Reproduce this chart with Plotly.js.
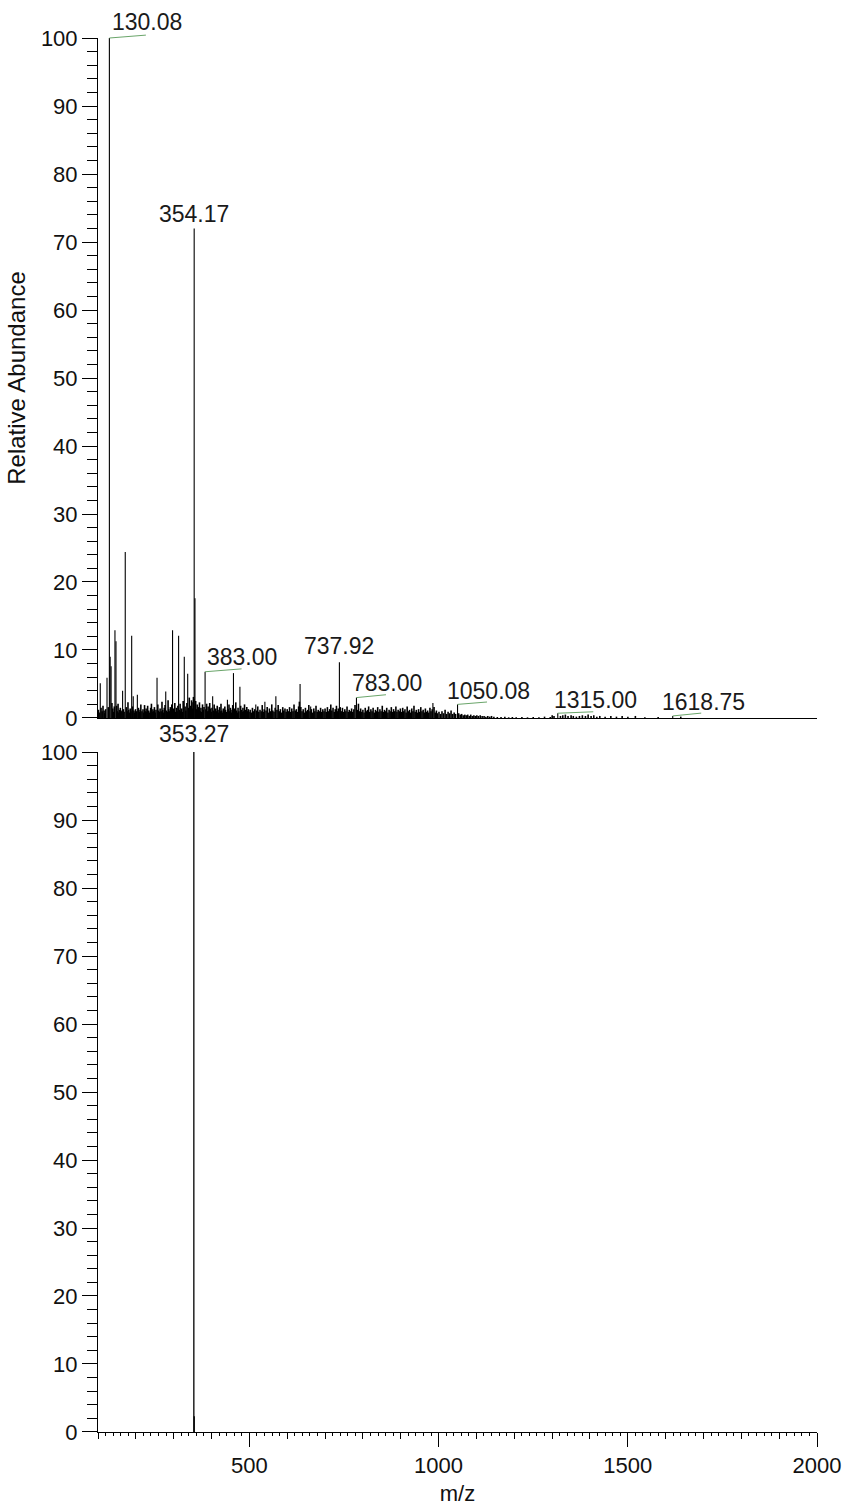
<!DOCTYPE html>
<html>
<head>
<meta charset="utf-8">
<script src="https://cdn.plot.ly/plotly-3.0.1.min.js"></script>
<style>html,body{margin:0;padding:0;background:#fff;}#chart{width:843px;height:1506px;}</style>
</head>
<body>
<div id="chart"></div>
<script>
// ---- Top spectrum: prominent peaks (m/z, relative abundance %) ----
const topPeakMz  = [106.0, 123.8, 130.08, 132.1, 134.6, 144.8, 147.5, 165.0, 172.0, 189.0, 193.1, 204.0, 256.0, 279.0, 297.0, 313.0, 328.0, 337.0, 354.17, 356.2, 383.00, 403.0, 442.0, 458.0, 475.0, 517.0, 541.0, 570.0, 634.0, 662.0, 737.92, 783.00, 985.0, 1050.08, 1315.00, 1618.75];
const topPeakInt = [5.1,   5.9,   100,    9.0,   7.6,   12.9,  11.3,  4.0,   24.4,  12.1,  3.2,   3.4,   5.9,   3.9,   12.9,  12.1,  9.0,   6.5,   72.0,   17.6,  6.8,    3.2,   2.7,   6.6,   4.6,   2.0,   2.4,   3.2,   5.0,   1.7,   8.2,    3.0,    2.2,   2.0,     0.7,     0.3];

// ---- Top spectrum: low-level background peaks ----
const grassMz = [
101.1,103.0,108.1,110.9,113.2,116.1,118.0,120.2,127.1,136.8,139.1,141.0,143.1,149.2,151.1,153.0,155.2,157.1,159.0,161.1,163.2,167.1,169.0,174.9,177.1,179.2,181.1,183.0,185.1,187.2,191.1,195.0,197.1,199.2,
202.1,206.9,209.1,211.0,213.2,216.1,218.9,221.1,223.0,225.2,227.1,229.0,231.2,234.1,237.0,239.1,241.2,243.0,245.1,247.2,249.1,251.0,253.2,258.1,260.0,262.2,264.1,266.9,269.1,271.2,273.0,275.1,277.2,281.1,283.0,285.2,287.1,289.0,291.1,293.2,295.0,299.1,
301.2,303.0,305.1,307.2,309.0,311.1,315.2,317.0,319.1,321.2,323.0,325.1,330.2,332.1,334.9,339.1,341.2,343.0,345.1,347.2,349.0,351.1,352.2,353.2,358.1,360.0,362.1,364.2,366.0,368.1,370.2,372.0,374.1,376.2,378.0,380.1,385.0,387.1,389.2,391.0,393.1,395.2,397.0,399.1,
401.2,405.1,407.0,409.1,411.2,413.0,415.1,417.2,419.0,421.1,423.2,425.0,427.1,429.2,431.0,433.1,435.2,437.0,439.1,444.0,446.1,448.2,450.0,452.1,454.2,456.0,460.1,462.0,464.1,466.2,468.0,470.1,472.2,477.0,479.1,481.2,483.0,485.1,487.2,489.0,491.1,493.2,495.0,497.1,499.2,
502.1,505.0,508.1,511.2,514.0,519.1,522.2,525.0,528.1,531.2,534.0,537.1,539.2,544.0,547.1,550.2,553.0,556.1,559.2,562.0,565.1,568.2,573.0,576.1,579.2,582.0,585.1,588.2,591.0,594.1,597.2,
600.0,603.1,606.2,609.0,612.1,615.2,618.0,621.1,624.2,627.0,630.1,632.2,636.0,639.1,642.2,645.0,648.1,651.2,654.0,657.1,660.2,664.0,667.1,670.2,673.0,676.1,679.2,682.0,685.1,688.2,691.0,694.1,697.2,
700.0,703.1,706.2,709.0,712.1,715.2,718.0,721.1,724.2,727.0,730.1,733.2,735.0,740.1,743.2,746.0,749.1,752.2,755.0,758.1,761.2,764.0,767.1,770.2,773.0,776.1,779.2,785.1,788.2,791.0,794.1,797.2,
800.0,803.1,806.2,809.0,812.1,815.2,818.0,821.1,824.2,827.0,830.1,833.2,836.0,839.1,842.2,845.0,848.1,851.2,854.0,857.1,860.2,863.0,866.1,869.2,872.0,875.1,878.2,881.0,884.1,887.2,890.0,893.1,896.2,899.0,
902.1,905.2,908.0,911.1,914.2,917.0,920.1,923.2,926.0,929.1,932.2,935.0,938.1,941.2,944.0,947.1,950.2,953.0,956.1,959.2,962.0,965.1,968.2,971.0,974.1,977.2,980.0,983.1,988.0,991.1,994.2,997.0,
1001.1,1005.2,1009.0,1013.1,1017.2,1021.0,1025.1,1029.2,1033.0,1037.1,1041.2,1045.0,1053.1,1057.2,1061.0,1065.1,1069.2,1073.0,1077.1,1081.2,1085.0,1089.1,1093.2,1097.0,1101.1,1105.2,1110.0,1115.1,1120.2,1125.0,1130.1,1135.2,1140.0,1146.1,
1155.2,1165.0,1175.1,1185.2,1195.0,1205.1,1220.2,1235.0,1250.1,1265.2,1280.0,1295.1,1300.2,1305.0,1322.1,1328.2,1335.0,1342.1,1350.2,1356.0,1364.1,1372.2,1380.0,1388.1,1395.2,1403.0,1410.1,1418.2,1426.0,1440.1,1455.2,1470.0,1485.1,1500.2,1520.0,1545.1,1580.2,1640.0
];
const grassInt = [
1.2,0.8,1.5,1.0,1.8,1.1,0.7,1.3,1.6,2.2,1.4,0.9,1.7,1.8,1.0,2.1,0.8,1.2,1.5,0.9,1.1,1.3,0.9,1.6,1.0,2.3,1.2,0.8,1.4,1.0,1.7,1.1,0.8,1.3,
1.0,1.5,0.9,1.2,2.0,1.0,1.3,0.8,1.9,1.0,1.4,0.9,1.8,1.1,0.8,1.5,2.1,0.9,1.3,1.0,1.6,0.8,1.2,2.0,1.1,0.9,1.4,1.0,2.4,1.2,0.8,1.5,1.9,1.1,0.9,2.6,1.3,1.0,1.6,0.9,2.0,1.4,
1.1,2.2,0.9,1.5,1.0,1.8,1.2,2.1,1.0,1.4,0.9,2.5,1.7,1.1,2.2,1.5,3.0,1.2,1.8,2.6,1.4,2.3,3.1,2.8,2.5,1.3,2.0,1.1,1.6,2.3,1.0,1.5,0.9,2.0,1.2,1.6,1.3,2.1,1.0,1.7,1.1,2.2,1.4,0.9,
1.5,1.1,2.0,0.9,1.4,1.0,1.8,1.2,0.8,1.6,1.0,2.1,1.1,0.8,1.4,1.0,1.7,1.2,0.9,1.3,2.0,1.0,1.5,0.8,1.2,1.9,1.4,1.0,2.3,1.1,0.8,1.5,1.0,1.8,1.2,0.9,1.5,1.0,2.0,1.2,0.8,1.6,1.0,1.3,0.9,
1.2,0.8,1.5,1.0,1.3,1.1,1.7,0.9,1.2,1.0,1.9,0.9,1.3,1.1,1.6,0.8,1.4,1.0,2.0,1.1,0.9,1.5,1.2,1.9,1.0,1.3,0.8,1.6,1.1,1.4,0.9,
1.3,1.0,1.6,0.9,1.4,1.0,2.0,1.1,1.3,0.9,1.7,2.4,1.6,1.0,1.3,0.8,1.5,1.0,1.2,1.9,1.0,1.3,0.8,1.4,1.0,1.8,0.9,1.2,1.0,1.5,0.9,1.3,1.0,
1.4,0.9,1.6,1.0,1.3,2.0,1.1,1.5,0.9,1.3,1.8,1.0,1.4,1.6,1.0,1.5,0.9,1.3,1.0,1.7,0.9,1.2,1.0,1.4,0.9,1.3,1.9,1.2,2.1,1.0,1.4,0.9,
1.2,0.8,1.5,1.0,1.2,1.7,0.9,1.3,1.0,1.5,0.8,1.2,1.0,1.6,0.9,1.3,1.0,1.8,0.9,1.2,1.0,1.5,0.8,1.2,1.0,1.6,0.9,1.3,1.0,1.7,0.9,1.2,1.0,1.4,
0.9,1.5,1.0,1.3,0.8,1.7,1.0,1.2,0.8,1.4,1.0,1.8,0.9,1.2,0.8,1.3,0.9,1.6,1.0,1.2,0.8,1.4,0.9,1.1,0.8,1.5,1.0,1.3,1.6,0.8,1.1,0.7,
0.9,0.6,1.0,0.7,1.2,0.6,0.9,0.7,1.1,0.6,0.8,0.6,0.7,0.5,0.6,0.4,0.5,0.4,0.5,0.3,0.5,0.3,0.4,0.3,0.4,0.3,0.4,0.3,0.3,0.2,0.3,0.2,0.3,0.2,
0.15,0.15,0.2,0.1,0.15,0.1,0.15,0.1,0.15,0.1,0.2,0.15,0.4,0.3,0.3,0.4,0.5,0.3,0.4,0.3,0.2,0.3,0.4,0.3,0.5,0.3,0.4,0.2,0.3,0.2,0.3,0.2,0.3,0.2,0.3,0.1,0.15,0.2
];

// ---- Bottom spectrum ----
const botPeakMz  = [353.27, 354.28];
const botPeakInt = [100, 2.3];

// ---- Peak labels ----
const topLabelMz   = [130.08, 354.17, 383.00, 737.92, 783.00, 1050.08, 1315.00, 1618.75];
const topLabelInt  = [100, 72.0, 6.8, 8.2, 3.0, 2.0, 0.7, 0.3];
const topLabelText = ['130.08', '354.17', '383.00', '737.92', '783.00', '1050.08', '1315.00', '1618.75'];
const topLabelLeader = [true, false, true, false, true, true, true, true];
const botLabelMz   = [353.27];
const botLabelInt  = [100];
const botLabelText = ['353.27'];

// offsets (px) of label text centre from the peak top and leader-line ends
const labelDx = [38, 0, 37, 0, 31, 31, 38, 31];
const labelDy = [16, 14, 15, 16, 15, 13, 13, 14];
const leadDx  = [38, 0, 38, 0, 31, 31, 37, 30];
const leadDy  = [3, 0, 3, 0, 3, 2.5, 1.5, 3];

function sticks(mz, inten) {
  const x = [], y = [];
  for (let i = 0; i < mz.length; i++) {
    x.push(mz[i], mz[i], null);
    y.push(0, inten[i], null);
  }
  return {x, y};
}

const g = sticks(grassMz, grassInt);
const t = sticks(topPeakMz, topPeakInt);
const b = sticks(botPeakMz, botPeakInt);

const traces = [
  {type:'scatter', mode:'lines', x:g.x, y:g.y, xaxis:'x', yaxis:'y', line:{color:'#000', width:1.6}, hoverinfo:'skip', showlegend:false},
  {type:'scatter', mode:'lines', x:t.x, y:t.y, xaxis:'x', yaxis:'y', line:{color:'#000', width:1.1}, hoverinfo:'skip', showlegend:false},
  {type:'scatter', mode:'lines', x:b.x, y:b.y, xaxis:'x2', yaxis:'y2', line:{color:'#000', width:1.3}, hoverinfo:'skip', showlegend:false},
  {type:'scatter', mode:'lines', x:[], y:[], xaxis:'x3', yaxis:'y2', hoverinfo:'skip', showlegend:false}
];

const FONT = 'Arial, "Liberation Sans", sans-serif';
const annotations = [];
const green = '#6aa56a';
for (let i = 0; i < topLabelMz.length; i++) {
  annotations.push({
    x: topLabelMz[i], y: topLabelInt[i], xref:'x', yref:'y',
    text: topLabelText[i], showarrow:false, xanchor:'center', yanchor:'middle',
    xshift: labelDx[i], yshift: labelDy[i],
    font:{family:FONT, size:23, color:'#1a1a1a'}
  });
  if (topLabelLeader[i]) {
    annotations.push({
      x: topLabelMz[i], y: topLabelInt[i], xref:'x', yref:'y',
      text:' ', font:{size:1}, showarrow:true, arrowhead:0, arrowwidth:1, arrowcolor:green,
      ax: leadDx[i], ay: -leadDy[i], standoff:0, startstandoff:0
    });
  }
}
for (let i = 0; i < botLabelMz.length; i++) {
  annotations.push({
    x: botLabelMz[i], y: botLabelInt[i], xref:'x2', yref:'y2',
    text: botLabelText[i], showarrow:false, xanchor:'center', yanchor:'middle',
    yshift: 18, font:{family:FONT, size:23, color:'#1a1a1a'}
  });
}

const yCommon = {
  range:[0,100], tickmode:'linear', tick0:0, dtick:10,
  ticks:'outside', ticklen:15, tickwidth:1, tickcolor:'#000',
  minor:{tickmode:'linear', tick0:0, dtick:2, ticks:'outside', ticklen:10, tickwidth:1, tickcolor:'#000', showgrid:false},
  showline:true, linecolor:'#000', linewidth:1, showgrid:false, zeroline:false,
  tickfont:{family:FONT, size:22, color:'#111'}, automargin:false, fixedrange:true
};

const layout = {
  width:843, height:1506,
  margin:{l:98, r:26, t:38, b:74},
  paper_bgcolor:'#fff', plot_bgcolor:'#fff',
  showlegend:false,
  xaxis:{domain:[0,1], anchor:'y', range:[100,2000], showticklabels:false, ticks:'',
         showline:true, linecolor:'#000', linewidth:1, showgrid:false, zeroline:false, automargin:false},
  yaxis:Object.assign({}, yCommon, {domain:[0.5122,1], anchor:'x',
         title:{text:'Relative Abundance', font:{family:FONT, size:24, color:'#111'}, standoff:8}}),
  xaxis2:{domain:[0,1], anchor:'y2', range:[100,2000], tickmode:'linear', tick0:0, dtick:500,
          ticks:'outside', ticklen:14, tickwidth:1, tickcolor:'#000',
          minor:{tickmode:'linear', tick0:0, dtick:20, ticks:'outside', ticklen:3, tickwidth:1, tickcolor:'#000', showgrid:false},
          showline:true, linecolor:'#000', linewidth:1, showgrid:false, zeroline:false,
          tickfont:{family:FONT, size:22, color:'#111'}, automargin:false,
          title:{text:'m/z', font:{family:FONT, size:22, color:'#111'}, standoff:8}},
  xaxis3:{overlaying:'x2', anchor:'y2', side:'bottom', range:[100,2000], tickmode:'linear', tick0:0, dtick:100,
          ticks:'outside', ticklen:6, tickwidth:1, tickcolor:'#000', showticklabels:false,
          showline:false, showgrid:false, zeroline:false, automargin:false},
  yaxis2:Object.assign({}, yCommon, {domain:[0,0.4878], anchor:'x2'}),
  annotations: annotations
};

Plotly.newPlot('chart', traces, layout, {staticPlot:true, displayModeBar:false});
</script>
</body>
</html>
